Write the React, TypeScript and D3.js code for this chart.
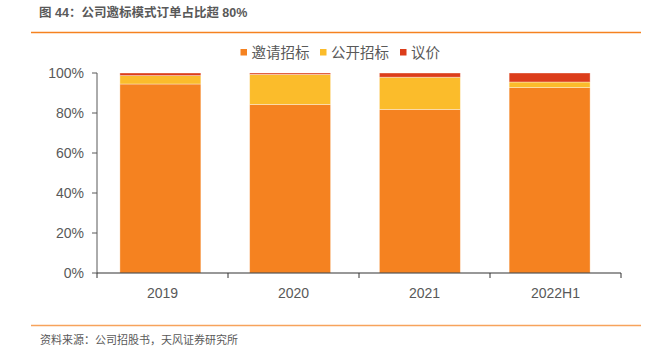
import React from "react";
import * as d3 from "d3";

const categories = ["2019", "2020", "2021", "2022H1"];
const seriesNames = ["邀请招标", "公开招标", "议价"];
const invite = [94.5, 84.3, 81.8, 92.7];
const open = [4.2, 15.0, 16.1, 2.8];
const negotiate = [1.3, 0.7, 2.1, 4.5];
const yTicks = [0, 20, 40, 60, 80, 100];
const colors = ["#F58220", "#FBBC2B", "#DC3D1A"];

const W = 648;
const H = 355;
const FONT = "'Liberation Sans', Arial, 'Noto Sans CJK SC', sans-serif";
const TEXT = "#595959";

export default function App() {
  const x = d3.scaleBand<string>().domain(categories).range([97, 621]);
  const xBars = d3
    .scaleBand<string>()
    .domain(categories)
    .range([95.5, 614.5])
    .paddingInner(0.376)
    .paddingOuter(0.188);
  const y = d3.scaleLinear().domain([0, 100]).range([273, 73]);

  const rows = categories.map((c, i) => ({ cat: c, a: invite[i], b: open[i], c: negotiate[i] }));
  const stack = d3.stack<any>().keys(["a", "b", "c"])(rows);

  const boundaries = [...categories.map((c) => x(c)!), x.range()[1]];

  return (
    <svg width={W} height={H} style={{ position: "absolute", left: 0, top: 0, background: "#fff" }}>
      <text x={39} y={17} fontFamily={FONT} fontSize={12.5} fontWeight="bold" fill={TEXT}>
        图 44：公司邀标模式订单占比超 80%
      </text>
      <line x1={31} x2={641} y1={32.5} y2={32.5} stroke="#F58220" strokeWidth={1.5} />

      {/* legend */}
      {seriesNames.map((n, i) => {
        const lx = [240.5, 320, 400][i];
        return (
          <g key={n}>
            <rect x={lx} y={49} width={6.5} height={6.5} fill={colors[i]} />
            <text x={lx + 11} y={57.5} fontFamily={FONT} fontSize={14.5} fill={TEXT}>
              {n}
            </text>
          </g>
        );
      })}

      {/* bars */}
      {stack.map((s, si) => (
        <g key={si} fill={colors[si]}>
          {s.map((d, di) => (
            <rect
              key={di}
              x={xBars(categories[di])}
              width={xBars.bandwidth()}
              y={y(d[1])}
              height={y(d[0]) - y(d[1])}
              stroke="#fff"
              strokeOpacity={0.45}
              strokeWidth={0.8}
            />
          ))}
        </g>
      ))}

      {/* y axis */}
      <line x1={97} x2={97} y1={y(100)} y2={y(0)} stroke={TEXT} strokeWidth={1} />
      {yTicks.map((t) => (
        <g key={t}>
          <line x1={92} x2={97} y1={y(t)} y2={y(t)} stroke={TEXT} />
          <text
            x={84}
            y={y(t) + 5}
            textAnchor="end"
            fontFamily={FONT}
            fontSize={14}
            fill={TEXT}
          >
            {t}%
          </text>
        </g>
      ))}

      {/* x axis */}
      <line x1={97} x2={621} y1={y(0)} y2={y(0)} stroke="#333" strokeWidth={1.2} />
      {boundaries.map((b, i) => (
        <line key={i} x1={b} x2={b} y1={y(0)} y2={y(0) + 5} stroke="#333" />
      ))}
      {categories.map((c) => (
        <text
          key={c}
          x={x(c)! + x.bandwidth() / 2}
          y={298}
          textAnchor="middle"
          fontFamily={FONT}
          fontSize={14}
          fill={TEXT}
        >
          {c}
        </text>
      ))}

      <line x1={31} x2={641} y1={325.5} y2={325.5} stroke="#F7A35C" strokeWidth={1.5} />
      <text x={40} y={344} fontFamily={FONT} fontSize={11} fill={TEXT}>
        资料来源：公司招股书，天风证券研究所
      </text>
    </svg>
  );
}
